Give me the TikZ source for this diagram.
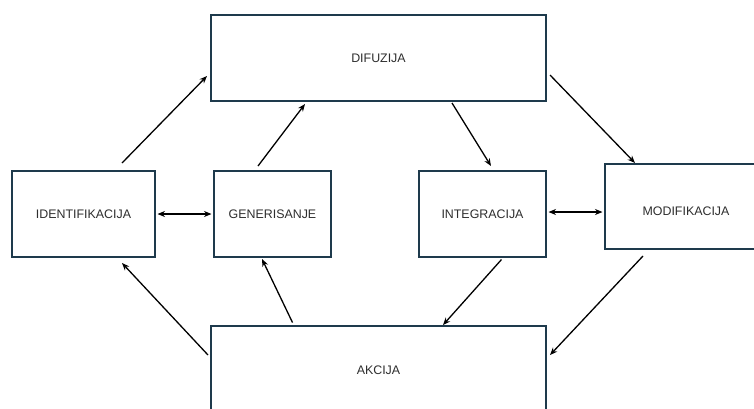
\documentclass[tikz,border=0pt]{standalone}
\usepackage{fontspec}
\setmainfont{Liberation Sans}
\usetikzlibrary{arrows.meta}
\definecolor{boxline}{HTML}{1E3A4C}
\definecolor{txt}{HTML}{2E2E2E}
\begin{document}
\begin{tikzpicture}[x=1pt,y=-1pt,
  box/.style={draw=boxline, line width=2pt, fill=white, rectangle, inner sep=0pt,
    font=\fontsize{12.4}{14}\selectfont, text=txt},
  conn/.style={line width=1.3pt, -{Stealth[length=7.5pt,width=6pt]}},
  biconn/.style={line width=1.3pt, {Stealth[length=7.5pt,width=6pt]}-{Stealth[length=7.5pt,width=6pt]}}]
\useasboundingbox (0,0) rectangle (754,408);
\clip (0,0) rectangle (754,408);
\node[box, minimum width=335pt, minimum height=86pt] (dif) at (378.5,58) {DIFUZIJA};
\node[box, minimum width=143pt, minimum height=86pt] (ide) at (83.5,214) {IDENTIFIKACIJA};
\node[box, minimum width=117pt, minimum height=86pt] (gen) at (272.5,214) {GENERISANJE};
\node[box, minimum width=127pt, minimum height=86pt] (int) at (482.5,214) {INTEGRACIJA};
\node[box, minimum width=162pt, minimum height=85pt, text height=17pt, text depth=0pt] (mod) at (686,206.5) {MODIFIKACIJA};
\node[box, minimum width=335pt, minimum height=88pt] (akc) at (378.5,370) {AKCIJA};
% connector end points
\coordinate (a1s) at (122,163); \coordinate (a1e) at (207,76);
\coordinate (a2s) at (258,166); \coordinate (a2e) at (305,104);
\coordinate (a3s) at (452,103); \coordinate (a3e) at (491,166);
\coordinate (a4s) at (550,75);  \coordinate (a4e) at (635,163);
\coordinate (a7s) at (208,355); \coordinate (a7e) at (122,263);
\coordinate (a8s) at (292.5,322.5); \coordinate (a8e) at (262,259);
\coordinate (a9s) at (501.5,259.5); \coordinate (a9e) at (443,325);
\coordinate (a10s) at (643,256); \coordinate (a10e) at (550,355);
\draw[conn] (a1s) -- (a1e);
\draw[conn] (a2s) -- (a2e);
\draw[conn] (a3s) -- (a3e);
\draw[conn] (a4s) -- (a4e);
\draw[biconn] ([xshift=1.5pt]ide.east) -- ([xshift=-1.5pt]gen.west);
\draw[biconn] ([xshift=1.5pt,yshift=2pt]int.east) -- ([xshift=-1.5pt]mod.west |- 0,212);
\draw[conn] (a7s) -- (a7e);
\draw[conn] (a8s) -- (a8e);
\draw[conn] (a9s) -- (a9e);
\draw[conn] (a10s) -- (a10e);
\end{tikzpicture}
\end{document}
